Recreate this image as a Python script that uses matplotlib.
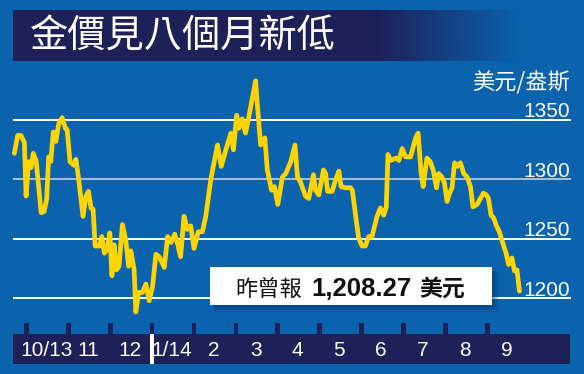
import numpy as np
import matplotlib
matplotlib.use('Agg')
import matplotlib.pyplot as plt
from matplotlib import font_manager, transforms
from matplotlib.patches import Rectangle
from matplotlib.colors import to_rgb

# gold price, months counted from Oct 2013 (0 = start of Oct 2013)
months = [-0.29, -0.21, -0.13, -0.05, -0.01, 0.05, 0.11, 0.16, 0.23, 0.35,
          0.42, 0.48, 0.53, 0.58, 0.64, 0.70, 0.77, 0.85, 0.93, 0.97,
          1.04, 1.13, 1.18, 1.24, 1.35, 1.42, 1.48, 1.54, 1.59, 1.64,
          1.74, 1.80, 1.86, 1.92, 1.99, 2.04, 2.09, 2.15, 2.21, 2.29,
          2.37, 2.44, 2.49, 2.57, 2.61, 2.68, 2.77, 2.85, 2.93, 3.01,
          3.09, 3.17, 3.29, 3.37, 3.45, 3.54, 3.60, 3.68, 3.76, 3.84,
          3.92, 4.00, 4.10, 4.20, 4.28, 4.40, 4.56, 4.65, 4.76, 4.88,
          4.94, 5.02, 5.07, 5.15, 5.23, 5.31, 5.47, 5.51, 5.59, 5.69,
          5.75, 5.85, 5.92, 6.00, 6.11, 6.19, 6.31, 6.41, 6.47, 6.54,
          6.66, 6.74, 6.85, 6.90, 6.98, 7.09, 7.14, 7.19, 7.30, 7.38,
          7.46, 7.51, 7.62, 7.74, 7.78, 7.86, 7.93, 8.01, 8.09, 8.17,
          8.25, 8.37, 8.45, 8.53, 8.59, 8.63, 8.69, 8.83, 8.89, 8.97,
          9.05, 9.17, 9.29, 9.35, 9.42, 9.47, 9.56, 9.64, 9.71, 9.79,
          9.84, 9.92, 9.98, 10.04, 10.10, 10.16, 10.22, 10.29, 10.36, 10.44,
          10.52, 10.60, 10.66, 10.76, 10.82, 10.91, 10.98, 11.03, 11.09, 11.15,
          11.22, 11.29, 11.35, 11.45, 11.51, 11.59, 11.65, 11.71, 11.77]
prices = [1322, 1337, 1337, 1331, 1286, 1315, 1310, 1322, 1316, 1272,
          1273, 1283, 1319, 1315, 1340, 1332, 1347, 1352, 1343, 1342,
          1315, 1312, 1317, 1302, 1269, 1286, 1290, 1276, 1275, 1244,
          1244, 1252, 1238, 1241, 1255, 1219, 1245, 1224, 1227, 1262,
          1249, 1227, 1240, 1224, 1188.5, 1205, 1205, 1212, 1198, 1210,
          1237, 1235, 1226, 1252, 1247, 1254, 1247, 1235, 1269, 1258,
          1261, 1242, 1256, 1256, 1269, 1300, 1329, 1311, 1325, 1339,
          1325, 1354, 1343, 1351, 1339, 1353, 1383, 1364, 1329, 1335,
          1308, 1291, 1294, 1279, 1302, 1305, 1315, 1329, 1302, 1298,
          1286, 1284, 1304, 1291, 1287, 1308, 1305, 1290, 1290, 1300,
          1307, 1294, 1293, 1293, 1291, 1269, 1251, 1244, 1244, 1252,
          1252, 1269, 1276, 1270, 1277, 1321, 1316, 1318, 1316, 1326,
          1319, 1319, 1335, 1339, 1306, 1294, 1318, 1315, 1308, 1293,
          1305, 1302, 1297, 1281.5, 1288.5, 1293, 1314, 1311, 1314, 1305,
          1302, 1294, 1277, 1279, 1283, 1288.5, 1287, 1284, 1270, 1268,
          1261, 1256, 1249, 1238, 1228.5, 1234, 1223, 1224, 1206]

month_labels = ['10/13', '11', '12', '1/14', '2', '3', '4', '5', '6', '7', '8', '9']
grid_levels = [1200, 1250, 1300, 1350]
title = '金價見八個月新低'
unit = '美元/盎斯'
note_lead = '昨曾報'
note_value = '1,208.27'
note_unit = '美元'

BG = '#0b63ad'
NAVY = '#1e2058'
GOLD = '#ffd400'
CJK = 'Noto Sans CJK TC'
names = {f.name for f in font_manager.fontManager.ttflist}
if 'Liberation Sans Narrow' in names:
    NARROW, month_size = 'Liberation Sans Narrow', 16.5
else:
    NARROW, month_size = 'Liberation Sans', 15

W, H = 584, 374
fig = plt.figure(figsize=(W / 100, H / 100), dpi=100, facecolor=BG)

# decoration layer in pixel coordinates (behind the chart)
back = fig.add_axes([0, 0, 1, 1], zorder=0)
back.axis('off')

back.add_patch(Rectangle((13, 10), 364, 51, color=NAVY, lw=0))
grad = np.zeros((1, 200, 4))
grad[..., :3] = to_rgb(NAVY)
grad[..., 3] = np.linspace(1, 0, 200)
back.imshow(grad, extent=(377, 522, 61, 10), aspect='auto', interpolation='bilinear')
back.set_xlim(0, W)
back.set_ylim(H, 0)
back.text(30, 37, title, color='white', fontsize=27.5, family=CJK, va='center', ha='left')

# bottom month bar
back.add_patch(Rectangle((13, 334), 557, 29.5, color=NAVY, lw=0))

# chart
ax = fig.add_axes([13 / W, (H - 322) / H, 558 / W, 247 / H], zorder=1)
ax.patch.set_visible(False)
for s in ax.spines.values():
    s.set_visible(False)
ax.set_xticks([])
ax.set_yticks([])
ax.set_xlim(-0.322, 13.0)
ax.set_ylim(1180.1, 1387.9)

for v in grid_levels:
    c = '#a9bedb' if v == 1300 else 'white'
    ax.axhline(v, xmin=0, xmax=557 / 558, color=c, lw=1.4, zorder=1)
    ax.text(557 / 558, v + 2.3, str(v), transform=ax.get_yaxis_transform(),
            ha='right', va='baseline', color='white', fontsize=15, family='Liberation Sans')
ax.text(557 / 558, 1381.5, unit, transform=ax.get_yaxis_transform(),
        ha='right', va='center', color='white', fontsize=16, family=CJK)

ax.plot(months, prices, color=GOLD, lw=3.4, solid_joinstyle='round',
        solid_capstyle='round', zorder=3, clip_on=False)

# month ticks and labels: x from the chart's month scale, y in pixels
tr = transforms.blended_transform_factory(ax.transData, back.transData)
for i, lab in enumerate(month_labels):
    back.add_patch(Rectangle((i - 0.055, 322.5), 0.11, 12, color=NAVY, lw=0, transform=tr))
    back.text(i + 0.47, 350.5, lab, transform=tr, ha='center', va='center',
              color='white', fontsize=month_size, family=NARROW)
back.add_patch(Rectangle((3 - 0.05, 334), 0.1, 29.5, color='white', lw=0, transform=tr))

# note box (in front of the grid)
front = fig.add_axes([0, 0, 1, 1], zorder=2)
front.set_xlim(0, W)
front.set_ylim(H, 0)
front.axis('off')
for k, a in [(7, 0.12), (5, 0.18), (3, 0.25)]:
    front.add_patch(Rectangle((214, 271), 278 + k, 34 + k, color='#03306a', alpha=a, lw=0))
front.add_patch(Rectangle((210, 267), 282, 38, color='white', lw=0))
front.text(235, 295.5, note_lead, ha='left', va='baseline', color='#111111',
           fontsize=16, family=CJK)
front.text(311, 295.5, note_value, ha='left', va='baseline', color='#111111',
           fontsize=18.5, family='Liberation Sans', fontweight='bold')
front.text(419, 295.5, note_unit, ha='left', va='baseline', color='#111111',
           fontsize=16.5, family=CJK, fontweight='bold')

plt.savefig('out.png', dpi=100, facecolor=BG)
